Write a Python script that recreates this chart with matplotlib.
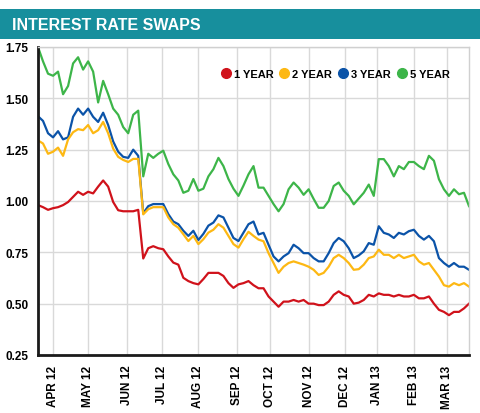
"""
Interest rate swaps chart: 1, 2, 3 and 5 year rates, Mar 2012 - Mar 2013.
"""

import numpy as np
import pandas as pd
import matplotlib
matplotlib.use("Agg")
import matplotlib.pyplot as plt
from matplotlib.lines import Line2D
from matplotlib.patches import Rectangle

# trading calendar (x axis runs on trading days), values sampled every 3rd day
holidays = ["2012-12-25", "2012-12-26", "2013-01-01"]
trading_days = pd.bdate_range("2012-03-20", "2013-03-20", freq="C", holidays=holidays)
sample_step = 3

year5 = [1.75, 1.68, 1.62, 1.61, 1.63, 1.52, 1.56, 1.67, 1.70, 1.64, 1.68, 1.63, 1.48, 1.585,
         1.52, 1.45, 1.42, 1.36, 1.33, 1.42, 1.44, 1.12,
         1.23, 1.21, 1.23, 1.245, 1.18, 1.13, 1.10, 1.04, 1.05, 1.107, 1.05, 1.06, 1.12, 1.155,
         1.21, 1.17, 1.107, 1.06, 1.025, 1.075, 1.13,
         1.17, 1.065, 1.065, 1.025, 0.985, 0.95, 0.985, 1.057, 1.09, 1.065, 1.03, 1.057, 1.01,
         0.967, 0.967, 1.00, 1.073, 1.09, 1.05, 1.025, 0.984, 1.012,
         1.04, 1.08, 1.025, 1.204, 1.204, 1.17, 1.12, 1.17, 1.155, 1.19, 1.19, 1.17, 1.155,
         1.22, 1.196, 1.106, 1.057, 1.025, 1.057, 1.033, 1.04, 0.975]

year3 = [1.413, 1.39, 1.33, 1.31, 1.34, 1.30, 1.31, 1.41, 1.45, 1.42, 1.45, 1.41, 1.385, 1.43,
         1.37, 1.29, 1.24, 1.215, 1.21, 1.25, 1.22, 0.94,
         0.975, 0.985, 0.985, 0.985, 0.936, 0.90, 0.887, 0.855, 0.83, 0.855, 0.81, 0.84, 0.88,
         0.895, 0.93, 0.92, 0.87, 0.82, 0.805, 0.846, 0.887,
         0.90, 0.837, 0.845, 0.787, 0.73, 0.706, 0.73, 0.746, 0.787, 0.77, 0.746, 0.746, 0.722,
         0.706, 0.706, 0.746, 0.795, 0.82, 0.804, 0.77, 0.722, 0.735,
         0.755, 0.795, 0.787, 0.877, 0.845, 0.837, 0.82, 0.845, 0.837, 0.853, 0.86, 0.83, 0.812,
         0.83, 0.804, 0.722, 0.698, 0.68, 0.698, 0.68, 0.68, 0.665]

year2 = [1.295, 1.28, 1.23, 1.24, 1.26, 1.22, 1.30, 1.335, 1.35, 1.345, 1.37, 1.33, 1.345, 1.385,
         1.33, 1.255, 1.215, 1.20, 1.19, 1.205, 1.205, 0.935,
         0.96, 0.97, 0.97, 0.97, 0.92, 0.887, 0.87, 0.838, 0.805, 0.83, 0.79, 0.814, 0.846, 0.86,
         0.887, 0.87, 0.83, 0.79, 0.773, 0.814, 0.85,
         0.83, 0.812, 0.804, 0.746, 0.698, 0.65, 0.68, 0.698, 0.706, 0.698, 0.69, 0.68, 0.665,
         0.64, 0.65, 0.68, 0.722, 0.738, 0.722, 0.698, 0.665, 0.668,
         0.69, 0.722, 0.73, 0.763, 0.738, 0.738, 0.722, 0.738, 0.722, 0.73, 0.738, 0.706, 0.69,
         0.698, 0.665, 0.632, 0.59, 0.583, 0.60, 0.59, 0.60, 0.583]

year1 = [0.98, 0.97, 0.957, 0.965, 0.97, 0.98, 0.995, 1.02, 1.045, 1.03, 1.045, 1.037, 1.07, 1.10,
         1.07, 0.995, 0.955, 0.95, 0.95, 0.95, 0.957, 0.72,
         0.77, 0.78, 0.77, 0.765, 0.73, 0.70, 0.69, 0.626, 0.61, 0.60, 0.594, 0.62, 0.65, 0.65,
         0.65, 0.635, 0.60, 0.577, 0.594, 0.60, 0.61,
         0.59, 0.575, 0.575, 0.535, 0.51, 0.485, 0.51, 0.51, 0.518, 0.51, 0.518, 0.50, 0.50,
         0.493, 0.493, 0.51, 0.543, 0.56, 0.543, 0.535, 0.50, 0.505,
         0.518, 0.543, 0.535, 0.55, 0.543, 0.543, 0.535, 0.543, 0.535, 0.535, 0.543, 0.526, 0.526,
         0.535, 0.50, 0.47, 0.46, 0.444, 0.46, 0.46, 0.477, 0.50]

series = [("1 YEAR", year1, "#d0121b"),
          ("2 YEAR", year2, "#fdb813"),
          ("3 YEAR", year3, "#0b53a8"),
          ("5 YEAR", year5, "#3db549")]

y_ticks = [0.25, 0.50, 0.75, 1.00, 1.25, 1.50, 1.75]

plt.rcParams["font.family"] = ["Liberation Sans", "DejaVu Sans"]

fig = plt.figure(figsize=(4.8, 4.14), dpi=100)

# title bar
fig.patches.append(Rectangle((0, 1 - 40 / 414), 1, 30 / 414, transform=fig.transFigure,
                             facecolor="#178f9d", edgecolor="none"))
fig.text(12 / 480, 1 - 25.5 / 414, "INTEREST RATE SWAPS", color="white", fontsize=11.5,
         fontweight="bold", va="center", ha="left")

ax = fig.add_axes([38 / 480, 58 / 414, 431 / 480, 308 / 414])

x_all = np.arange(len(trading_days))
x = x_all[::sample_step]
for label, vals, color in series[::-1]:
    ax.plot(x, vals, color=color, lw=1.6, solid_joinstyle="round")

# month ticks on the first trading day of each month
month_pos = [i for i in range(1, len(trading_days))
             if trading_days[i].month != trading_days[i - 1].month]
month_labels = [trading_days[i].strftime("%b %y").upper() for i in month_pos]

ax.set_xlim(0, len(trading_days) - 1)
ax.set_ylim(0.25, 1.75)
ax.set_xticks(month_pos)
ax.set_xticklabels(month_labels, rotation=90, fontsize=8.5, fontweight="bold")
ax.set_yticks(y_ticks)
ax.set_yticklabels([f"{v:.2f}" for v in y_ticks], fontsize=8.5, fontweight="bold")
ax.tick_params(length=0, pad=7)
ax.grid(True, color="#d9d9d9", lw=1)
ax.set_axisbelow(True)

for side in ["left", "bottom"]:
    ax.spines[side].set_color("#1a1a1a")
    ax.spines[side].set_linewidth(2)
for side in ["top", "right"]:
    ax.spines[side].set_color("#d0d0d0")
    ax.spines[side].set_linewidth(1)

handles = [Line2D([], [], ls="", marker="o", markersize=7, color=c) for _, _, c in series]
ax.legend(handles, [s[0] for s in series], loc="center", bbox_to_anchor=(0.69, 0.912),
          ncol=4, frameon=False, handletextpad=0.3, columnspacing=0.6, handlelength=0.8,
          prop={"weight": "bold", "size": 8})

fig.savefig("out.png", dpi=100)
